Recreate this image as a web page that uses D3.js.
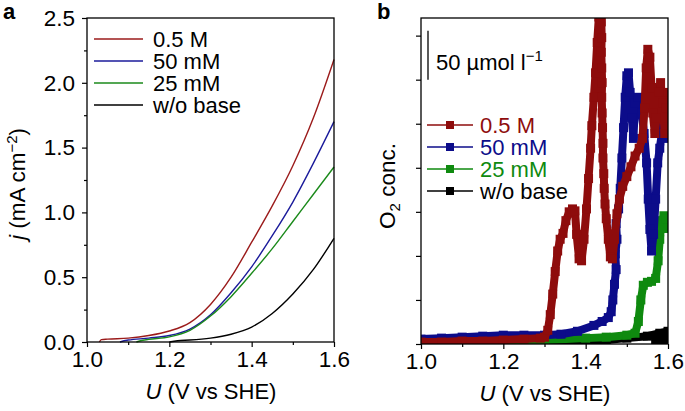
<!DOCTYPE html>
<html>
<head>
<meta charset="utf-8">
<script src="https://cdn.jsdelivr.net/npm/d3@7"></script>
<style>
  body { margin: 0; background: #fff; }
  text { font-family: 'Liberation Sans', Arial, sans-serif; }
</style>
</head>
<body>
<div id="chart"></div>
<script>
// panel a: current density vs potential
let seriesNames = ['0.5 M', '50 mM', '25 mM', 'w/o base'];
let colorsA = ['#9b1b1b', '#1b1b9b', '#1b8a1b', '#000000'];
let colorsB = ['#8e0c0c', '#0c0c8a', '#0f8a0f', '#000000'];

let uRed = [1.03, 1.035, 1.05, 1.1, 1.15, 1.2, 1.25, 1.3, 1.35, 1.4, 1.45, 1.5, 1.55, 1.6];
let jRed = [0.0, 0.018, 0.022, 0.03, 0.05, 0.085, 0.15, 0.29, 0.50, 0.77, 1.05, 1.36, 1.73, 2.18];
let uBlue = [1.08, 1.09, 1.1, 1.15, 1.2, 1.25, 1.3, 1.35, 1.4, 1.45, 1.5, 1.55, 1.6];
let jBlue = [0.0, 0.01, 0.015, 0.03, 0.05, 0.10, 0.21, 0.38, 0.58, 0.82, 1.08, 1.38, 1.70];
let uGreen = [1.12, 1.13, 1.15, 1.2, 1.25, 1.3, 1.35, 1.4, 1.45, 1.5, 1.55, 1.6];
let jGreen = [0.0, 0.01, 0.02, 0.04, 0.09, 0.20, 0.35, 0.53, 0.72, 0.93, 1.14, 1.35];
let uBlack = [1.2, 1.22, 1.25, 1.3, 1.35, 1.4, 1.45, 1.5, 1.55, 1.6];
let jBlack = [0.0, 0.01, 0.015, 0.03, 0.06, 0.115, 0.22, 0.37, 0.56, 0.80];

// panel b: O2 concentration (umol/l) vs potential, sweep order
let uRedB = [1.0, 1.05, 1.1, 1.15, 1.2, 1.25, 1.29, 1.3, 1.308, 1.314, 1.32, 1.326, 1.332, 1.338, 1.345, 1.352, 1.36, 1.368, 1.374, 1.378, 1.384, 1.39, 1.396, 1.402, 1.407, 1.412, 1.415, 1.42, 1.424, 1.428, 1.432, 1.435,
  1.438, 1.439, 1.438, 1.439, 1.44, 1.439, 1.44, 1.441, 1.442, 1.442, 1.444, 1.445, 1.447, 1.45, 1.455, 1.46, 1.465, 1.47, 1.476, 1.482, 1.49, 1.5, 1.51, 1.52, 1.53, 1.538, 1.543, 1.547, 1.551, 1.556, 1.56, 1.563, 1.568, 1.572, 1.577, 1.582, 1.587, 1.592, 1.596, 1.6, 1.6];
let cRedB = [2, 2, 3, 3, 4, 5, 6, 7, 14, 30, 51, 74, 95, 107, 113, 126, 135, 138, 136, 112, 87, 85, 107, 138, 169, 200, 223, 252, 277, 308, 334, 350,
  329, 313, 298, 282, 267, 252, 236, 221, 205, 190, 174, 159, 143, 128, 107, 89, 87, 107, 133, 148, 161, 171, 181, 192, 200, 210, 241, 282, 301, 293, 262, 236, 215, 231, 257, 267, 246, 215, 241, 257, 231];
let uBlueB = [1.0, 1.05, 1.1, 1.15, 1.2, 1.25, 1.3, 1.34, 1.38, 1.42, 1.44, 1.455, 1.462, 1.466, 1.47, 1.474, 1.472, 1.476, 1.474, 1.48, 1.484, 1.488, 1.492, 1.496, 1.5, 1.504, 1.508, 1.512, 1.516, 1.52, 1.528, 1.536, 1.542, 1.548, 1.552, 1.556, 1.56, 1.565, 1.57, 1.575, 1.58, 1.585, 1.59, 1.595, 1.6, 1.6];
let cBlueB = [5, 6, 7, 8, 9, 9, 9, 10, 13, 19, 23, 27, 33, 45, 61, 76, 92, 107, 123, 138, 159, 190, 221, 252, 274, 277, 257, 231, 210, 246, 252, 236, 215, 185, 148, 117, 95, 112, 148, 185, 200, 215, 236, 246, 241, 210];
let uGreenB = [1.0, 1.1, 1.2, 1.3, 1.4, 1.45, 1.5, 1.52, 1.528, 1.534, 1.54, 1.55, 1.56, 1.57, 1.576, 1.58, 1.585, 1.59, 1.595, 1.6];
let cGreenB = [2, 3, 3, 4, 6, 7, 9, 11, 23, 45, 60, 63, 64, 67, 85, 107, 126, 131, 128, 118];
let uBlackB = [1.0, 1.2, 1.3, 1.4, 1.45, 1.5, 1.55, 1.58, 1.6, 1.6, 1.57];
let cBlackB = [1, 1, 2, 3, 4, 6, 8, 11, 13, 4, 3];

let xTicks = [1.0, 1.2, 1.4, 1.6];
let xMinor = [1.1, 1.3, 1.5];
let jTicks = [0, 0.5, 1.0, 1.5, 2.0, 2.5];
let jMinor = [0.25, 0.75, 1.25, 1.75, 2.25];
let cTicks = [0, 45, 90, 135, 180, 225, 270, 315];
let scaleBar = [270, 320];

let width = 685, height = 411;
let svg = d3.select('#chart').append('svg')
  .attr('width', width)
  .attr('height', height)
  .style('background', '#fff');

let zip = (u, v) => u.map((d, i) => [d, v[i]]);
let seriesA = [zip(uRed, jRed), zip(uBlue, jBlue), zip(uGreen, jGreen), zip(uBlack, jBlack)];
let seriesB = [zip(uRedB, cRedB), zip(uBlueB, cBlueB), zip(uGreenB, cGreenB), zip(uBlackB, cBlackB)];

function frame(x, y, xt, xm, yt, ym, yLabels) {
  let g = svg.append('g');
  let [x0, x1] = x.range(), [y0, y1] = y.range();
  g.append('g').attr('transform', 'translate(0,' + y0 + ')')
    .call(d3.axisBottom(x).tickValues(xt).tickSize(5).tickPadding(4).tickFormat(d3.format('.1f')));
  g.append('g').attr('transform', 'translate(0,' + y0 + ')')
    .call(d3.axisBottom(x).tickValues(xm).tickSize(3).tickFormat(''));
  g.append('g').attr('transform', 'translate(' + x0 + ',0)')
    .call(d3.axisLeft(y).tickValues(yt).tickSize(5).tickPadding(7)
      .tickFormat(yLabels ? d3.format('.1f') : ''));
  if (ym) {
    g.append('g').attr('transform', 'translate(' + x0 + ',0)')
      .call(d3.axisLeft(y).tickValues(ym).tickSize(3).tickFormat(''));
  }
  g.selectAll('.domain').remove();
  g.selectAll('.tick line').attr('stroke', '#000').attr('stroke-width', 1.2);
  g.selectAll('.tick text').attr('font-size', 22.5).attr('fill', '#000')
    .style('font-family', "'Liberation Sans', Arial, sans-serif");
  g.append('rect')
    .attr('x', x0).attr('y', y1)
    .attr('width', x1 - x0).attr('height', y0 - y1)
    .attr('fill', 'none').attr('stroke', '#000').attr('stroke-width', 1.3);
  return g;
}

// ---- panel a ----
let xA = d3.scaleLinear().domain([1.0, 1.6]).range([87, 334]);
let yA = d3.scaleLinear().domain([0, 2.5]).range([342, 18]);

let lineA = d3.line().x(d => xA(d[0])).y(d => yA(d[1])).curve(d3.curveMonotoneX);
svg.append('g').selectAll('path')
  .data(seriesA)
  .enter().append('path')
    .attr('d', lineA)
    .attr('fill', 'none')
    .attr('stroke', (d, i) => colorsA[i])
    .attr('stroke-width', 1.4);

frame(xA, yA, xTicks, xMinor, jTicks, jMinor, true);

let legA = svg.append('g').selectAll('g')
  .data(seriesNames)
  .enter().append('g')
    .attr('transform', (d, i) => 'translate(94,' + (39 + i * 22) + ')');
legA.append('line').attr('x1', 0).attr('x2', 49)
  .attr('stroke', (d, i) => colorsA[i]).attr('stroke-width', 1.6);
legA.append('text').attr('x', 59).attr('y', 8)
  .attr('font-size', 22).text(d => d);

svg.append('text').attr('x', 3).attr('y', 19)
  .attr('font-size', 22).attr('font-weight', 'bold').text('a');

let labA = svg.append('text').attr('x', 211).attr('y', 399)
  .attr('text-anchor', 'middle').attr('font-size', 22);
labA.append('tspan').attr('font-style', 'italic').text('U');
labA.append('tspan').text(' (V vs SHE)');

let ylabA = svg.append('text')
  .attr('transform', 'translate(25,184) rotate(-90)')
  .attr('text-anchor', 'middle').attr('font-size', 22.5);
ylabA.append('tspan').attr('font-style', 'italic').text('j');
ylabA.append('tspan').text(' (mA cm');
ylabA.append('tspan').attr('font-size', 15).attr('dy', -8).text('\u22122');
ylabA.append('tspan').attr('dy', 8).text(')');

// ---- panel b ----
let xB = d3.scaleLinear().domain([1.0, 1.6]).range([421, 668]);
let yB = d3.scaleLinear().domain([0, 333]).range([344, 18]);

svg.append('clipPath').attr('id', 'clipB')
  .append('rect').attr('x', 421).attr('y', 18).attr('width', 247).attr('height', 326);

let lineB = d3.line().x(d => xB(d[0])).y(d => yB(d[1]));
let drawOrder = [3, 2, 1, 0];
let plotB = svg.append('g').attr('clip-path', 'url(#clipB)');
drawOrder.forEach(k => {
  let s = plotB.append('g');
  s.append('path')
    .attr('d', lineB(seriesB[k]))
    .attr('fill', 'none')
    .attr('stroke', colorsB[k])
    .attr('stroke-width', 8)
    .attr('stroke-linejoin', 'bevel');
  s.selectAll('rect')
    .data(seriesB[k])
    .enter().append('rect')
      .attr('x', d => xB(d[0]) - 4.5)
      .attr('y', d => yB(d[1]) - 4.5)
      .attr('width', 9).attr('height', 9)
      .attr('fill', colorsB[k]);
});

frame(xB, yB, xTicks, xMinor, cTicks, null, false);

// 50 umol/l scale bar
svg.append('line')
  .attr('x1', 428).attr('x2', 428)
  .attr('y1', yB(scaleBar[0])).attr('y2', yB(scaleBar[1]))
  .attr('stroke', '#000').attr('stroke-width', 1.3);
let sbText = svg.append('text').attr('x', 436).attr('y', 70).attr('font-size', 22);
sbText.append('tspan').text('50 \u00b5mol l');
sbText.append('tspan').attr('font-size', 15).attr('dy', -9).text('\u22121');

let legB = svg.append('g').selectAll('g')
  .data(seriesNames)
  .enter().append('g')
    .attr('transform', (d, i) => 'translate(427,' + (125 + i * 22) + ')');
legB.append('line').attr('x1', 0).attr('x2', 46)
  .attr('stroke', (d, i) => colorsB[i]).attr('stroke-width', 1.6);
legB.append('rect').attr('x', 19).attr('y', -4).attr('width', 8).attr('height', 8)
  .attr('fill', (d, i) => colorsB[i]);
legB.append('text').attr('x', 53).attr('y', 8)
  .attr('font-size', 22).attr('fill', (d, i) => colorsB[i]).text(d => d);

svg.append('text').attr('x', 377).attr('y', 19)
  .attr('font-size', 22).attr('font-weight', 'bold').text('b');

let labB = svg.append('text').attr('x', 545).attr('y', 401)
  .attr('text-anchor', 'middle').attr('font-size', 22);
labB.append('tspan').attr('font-style', 'italic').text('U');
labB.append('tspan').text(' (V vs SHE)');

let ylabB = svg.append('text')
  .attr('transform', 'translate(395,186) rotate(-90)')
  .attr('text-anchor', 'middle').attr('font-size', 22.5);
ylabB.append('tspan').text('O');
ylabB.append('tspan').attr('font-size', 15).attr('dy', 5).text('2');
ylabB.append('tspan').attr('dy', -5).text(' conc.');
</script>
</body>
</html>
